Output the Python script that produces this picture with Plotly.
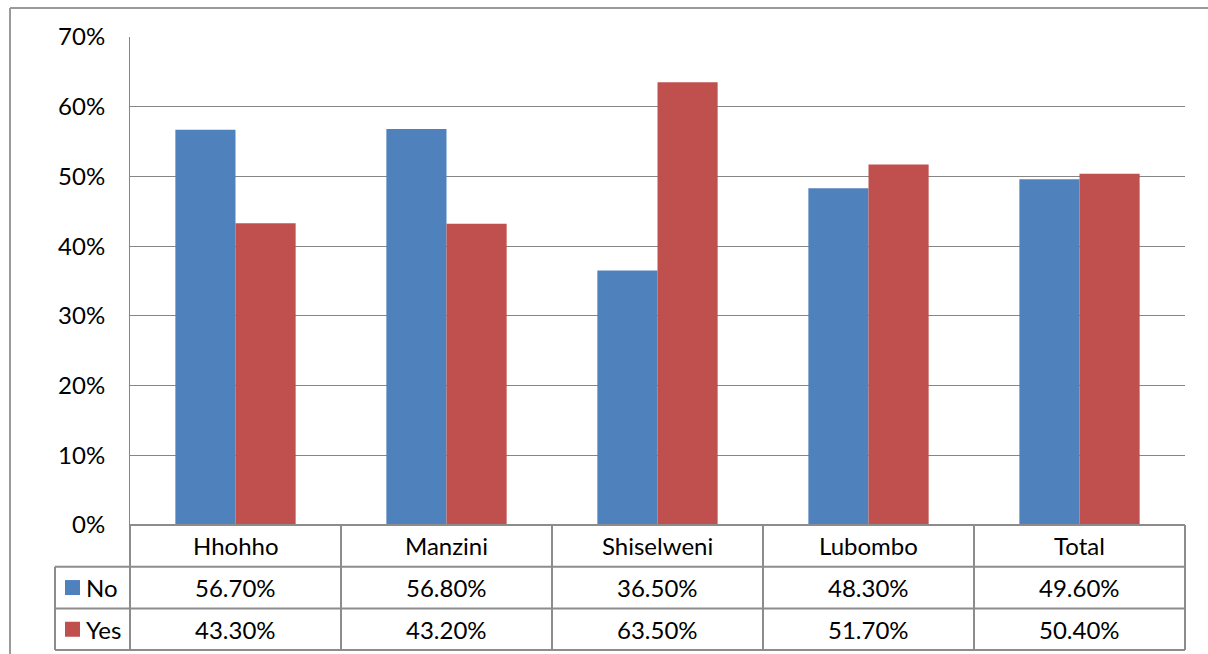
import plotly.graph_objects as go

categories = ["Hhohho", "Manzini", "Shiselweni", "Lubombo", "Total"]
no_values = [56.7, 56.8, 36.5, 48.3, 49.6]
yes_values = [43.3, 43.2, 63.5, 51.7, 50.4]
series_names = ["No", "Yes"]
series_colors = ["#4F81BD", "#C0504D"]
y_ticks = [0, 10, 20, 30, 40, 50, 60, 70]
y_tick_labels = [f"{v}%" for v in y_ticks]

W, H = 1208, 654
L, R, T, B = 130, 1185, 37, 525  # plot area in pixels
FONT = "Lato"
FS = 24
LINE = "#8C8C8C"

def px(x):
    return (x - L) / (R - L)

def py(y):
    return (B - y) / (B - T)

fig = go.Figure()
for name, vals, col in zip(series_names, [no_values, yes_values], series_colors):
    fig.add_bar(x=categories, y=vals, name=name, marker_color=col,
                marker_line_width=0, hoverinfo="x+y+name")

shapes = []
annotations = []

row_top = B
row_h = 41.7
rows = [row_top + i * row_h for i in range(4)]
n = len(categories)

shapes.append(dict(type="line", xref="paper", yref="paper", x0=0, x1=1,
                   y0=py(rows[0]), y1=py(rows[0]), line=dict(color=LINE, width=2)))
for r in rows[1:]:
    shapes.append(dict(type="line", xref="paper", yref="paper", x0=px(55), x1=1,
                       y0=py(r), y1=py(r), line=dict(color=LINE, width=2)))
for i in range(n + 1):
    shapes.append(dict(type="line", xref="paper", yref="paper", x0=i / n, x1=i / n,
                       y0=py(rows[0]), y1=py(rows[3]), line=dict(color=LINE, width=2)))
shapes.append(dict(type="line", xref="paper", yref="paper", x0=px(55), x1=px(55),
                   y0=py(rows[1]), y1=py(rows[3]), line=dict(color=LINE, width=2)))

# outer chart frame
shapes.append(dict(type="line", xref="paper", yref="paper", x0=px(10), x1=px(10),
                   y0=py(8), y1=py(H + 5), line=dict(color="#9A9A9A", width=2)))
shapes.append(dict(type="line", xref="paper", yref="paper", x0=px(10), x1=px(W + 5),
                   y0=py(8), y1=py(8), line=dict(color="#9A9A9A", width=2)))

for i, c in enumerate(categories):
    annotations.append(dict(text=c, xref="paper", yref="paper", x=(i + 0.5) / n,
                            y=py((rows[0] + rows[1]) / 2), showarrow=False,
                            font=dict(family=FONT, size=FS, color="black"),
                            xanchor="center", yanchor="middle"))
for k, (name, vals, col) in enumerate(zip(series_names, [no_values, yes_values], series_colors)):
    yc = (rows[k + 1] + rows[k + 2]) / 2
    shapes.append(dict(type="rect", xref="paper", yref="paper", x0=px(65), x1=px(80),
                       y0=py(yc - 7.5), y1=py(yc + 7.5), fillcolor=col, line=dict(width=0)))
    annotations.append(dict(text=name, xref="paper", yref="paper", x=px(84), y=py(yc),
                            showarrow=False, xanchor="left", yanchor="middle",
                            font=dict(family=FONT, size=FS, color="black")))
    for i, v in enumerate(vals):
        annotations.append(dict(text=f"{v:.2f}%", xref="paper", yref="paper",
                                x=(i + 0.5) / n, y=py(yc), showarrow=False,
                                xanchor="center", yanchor="middle",
                                font=dict(family=FONT, size=FS, color="black")))

fig.update_layout(
    width=W, height=H,
    margin=dict(l=L, r=W - R, t=T, b=H - B, pad=0),
    paper_bgcolor="white", plot_bgcolor="white",
    barmode="group", bargap=0.43, bargroupgap=0,
    showlegend=False,
    shapes=shapes, annotations=annotations,
    font=dict(family=FONT, size=FS, color="black"),
    xaxis=dict(showticklabels=False, showgrid=False, zeroline=False, ticks="",
               showline=False, range=[-0.5, n - 0.5]),
    yaxis=dict(range=[0, 70], tickvals=y_ticks, ticktext=y_tick_labels,
               showgrid=True, gridcolor="#868686", gridwidth=1, zeroline=False,
               showline=True, linecolor="#868686", linewidth=1, ticks="",
               ticklabelstandoff=19, tickfont=dict(family=FONT, size=FS, color="black")),
)

fig.write_html("out.html", config={"displayModeBar": False},
               post_script="document.body.style.margin='0';document.body.style.overflow='hidden';")
